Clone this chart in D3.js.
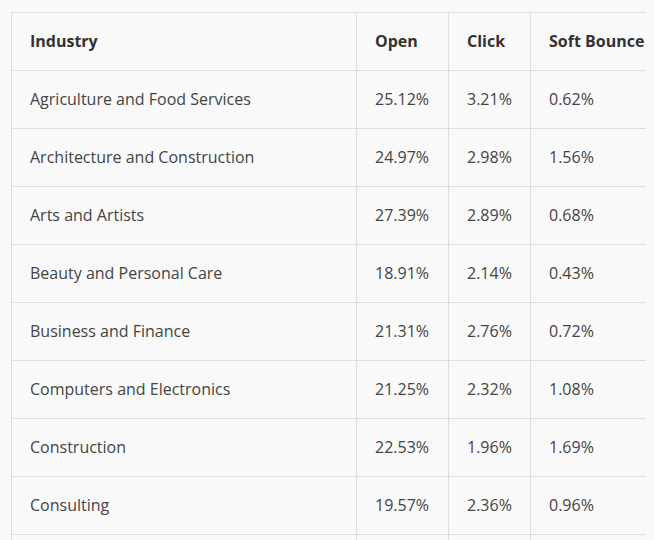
<!DOCTYPE html>
<html><head><meta charset="utf-8">
<script src="https://cdn.jsdelivr.net/npm/d3@7"></script>
<style>
html,body{margin:0;padding:0;background:#f9f9f9;overflow:hidden;}
svg{display:block;}
</style></head>
<body>
<svg id="chart" width="654" height="540"></svg>
<script>
const columns = ["Industry", "Open", "Click", "Soft Bounce"];
const industries = [
  "Agriculture and Food Services",
  "Architecture and Construction",
  "Arts and Artists",
  "Beauty and Personal Care",
  "Business and Finance",
  "Computers and Electronics",
  "Construction",
  "Consulting"
];
const openRates = [25.12, 24.97, 27.39, 18.91, 21.31, 21.25, 22.53, 19.57];
const clickRates = [3.21, 2.98, 2.89, 2.14, 2.76, 2.32, 1.96, 2.36];
const softBounceRates = [0.62, 1.56, 0.68, 0.43, 0.72, 1.08, 1.69, 0.96];

const W = 654, H = 540;
const tLeft = 11, tTop = 12, tRight = 646, rowH = 58;
const colEdges = [tLeft, 356, 448, 530, tRight];
const padX = 19;

const svg = d3.select("#chart");
svg.append("rect").attr("width", W).attr("height", H).attr("fill", "#f9f9f9");

const rowKeys = ["header"].concat(industries);
const y = d3.scaleBand().domain(rowKeys).range([tTop, tTop + rowH * rowKeys.length]).paddingInner(0).paddingOuter(0);
const x = d3.scaleOrdinal().domain(columns).range(colEdges.slice(0, 4));

const g = svg.append("g");
const hy = rowKeys.map(k => y(k)).concat([y(rowKeys[rowKeys.length-1]) + rowH]);
g.selectAll("line.h").data(hy).join("line")
  .attr("class", "h")
  .attr("x1", tLeft).attr("x2", tRight)
  .attr("y1", d => Math.round(d) + 0.5).attr("y2", d => Math.round(d) + 0.5)
  .attr("stroke", "#dddddd").attr("stroke-width", 1);
g.selectAll("line.v").data(colEdges.slice(0, 4)).join("line")
  .attr("class", "v")
  .attr("x1", d => d + 0.5).attr("x2", d => d + 0.5)
  .attr("y1", tTop).attr("y2", H)
  .attr("stroke", "#dddddd").attr("stroke-width", 1);

const font = "'Open Sans', 'Noto Sans', sans-serif";
g.selectAll("text.hdr").data(columns).join("text")
  .attr("class", "hdr")
  .attr("x", d => x(d) + padX)
  .attr("y", y("header") + rowH / 2)
  .attr("dy", "0.35em")
  .attr("font-family", font).attr("font-size", 16).attr("font-weight", 700)
  .attr("fill", "#333333")
  .text(d => d);

const fmt = v => v.toFixed(2) + "%";
const rows = industries.map((name, i) => ({name, cells: [name, fmt(openRates[i]), fmt(clickRates[i]), fmt(softBounceRates[i])]}));
const rg = g.selectAll("g.row").data(rows).join("g").attr("class", "row");
rg.selectAll("text").data(d => d.cells.map((c, j) => ({c, j, name: d.name}))).join("text")
  .attr("x", d => x(columns[d.j]) + padX)
  .attr("y", d => y(d.name) + rowH / 2)
  .attr("dy", "0.35em")
  .attr("font-family", font).attr("font-size", 16).attr("font-weight", 400)
  .attr("fill", "#444444")
  .text(d => d.c);
</script>
</body></html>
